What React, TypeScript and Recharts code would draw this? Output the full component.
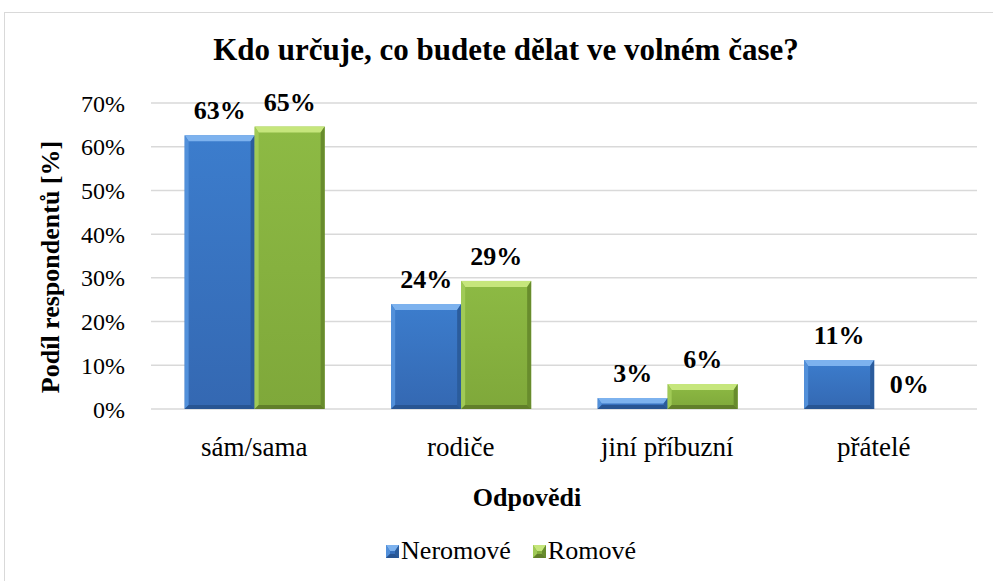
import { BarChart, Bar, XAxis, YAxis, CartesianGrid, LabelList } from "recharts";

const categories = ["sám/sama", "rodiče", "jiní příbuzní", "přátelé"];
const neromove = [62.6, 24, 2.5, 11.2];
const romove = [64.6, 29.3, 5.7, 0];
const yTicks = [0, 10, 20, 30, 40, 50, 60, 70];

const seriesNames = ["Neromové", "Romové"];

const blue = { face: "#3c7dcd", faceDark: "#3468b2", top: "#7db2ee", left: "#5290da", right: "#2b5c9c", bottom: "#285593" };
const green = { face: "#8dba44", faceDark: "#7fa83a", top: "#c6e67c", left: "#a0ca56", right: "#688c2d", bottom: "#617f2a" };

const FONT = "Liberation Serif";

const data = categories.map((name, i) => ({
  name,
  neromove: neromove[i],
  romove: romove[i],
}));

type Pal = typeof blue;

function BevelBar(props: any) {
  const { x, y, width, height, pal, id } = props as { x: number; y: number; width: number; height: number; pal: Pal; id: string };
  if (!height || height <= 0) return null;
  const t = Math.min(6, height / 2);
  const bt = Math.min(4, height / 2);
  const s = Math.min(4, width / 2);
  const x2 = x + width;
  const y2 = y + height;
  return (
    <g>
      <rect x={x} y={y} width={width} height={height} fill={`url(#${id})`} />
      <polygon points={`${x},${y} ${x2},${y} ${x2 - s},${y + t} ${x + s},${y + t}`} fill={pal.top} />
      <polygon points={`${x},${y} ${x + s},${y + t} ${x + s},${y2 - bt} ${x},${y2}`} fill={pal.left} />
      <polygon points={`${x2},${y} ${x2},${y2} ${x2 - s},${y2 - bt} ${x2 - s},${y + t}`} fill={pal.right} />
      <polygon points={`${x},${y2} ${x2},${y2} ${x2 - s},${y2 - bt} ${x + s},${y2 - bt}`} fill={pal.bottom} />
    </g>
  );
}

const pct = (v: any) => `${Math.round(Number(v))}%`;

function Grad({ id, pal }: { id: string; pal: Pal }) {
  return (
    <linearGradient id={id} x1="0" y1="0" x2="0" y2="1">
      <stop offset="0%" stopColor={pal.face} />
      <stop offset="100%" stopColor={pal.faceDark} />
    </linearGradient>
  );
}

function LegendIcon({ pal, id }: { pal: Pal; id: string }) {
  return (
    <svg width={13} height={13} style={{ marginRight: 2 }}>
      <defs>
        <Grad id={id} pal={pal} />
      </defs>
      <BevelBar x={0} y={0} width={13} height={13} pal={pal} id={id} />
    </svg>
  );
}

export default function App() {
  const labelStyle = { fontFamily: FONT, fontSize: 26, fontWeight: 700, fill: "#000" };
  return (
    <div style={{ position: "absolute", left: 0, top: 0, width: 993, height: 581, overflow: "hidden", background: "#fff", fontFamily: FONT }}>
      <div style={{ position: "absolute", left: 4, top: 12, width: 1100, height: 700, border: "1px solid #d9d9d9" }} />
      <div style={{ position: "absolute", left: 0, top: 34, width: 1012, textAlign: "center", fontFamily: FONT, fontSize: 31, lineHeight: "32px", fontWeight: 700, color: "#000" }}>
        Kdo určuje, co budete dělat ve volném čase?
      </div>
      <div style={{ position: "absolute", left: 0, top: 0 }}>
        <BarChart
          width={993}
          height={581}
          data={data}
          margin={{ top: 103, right: 16, left: 0, bottom: 112 }}
          barCategoryGap="16.3%"
          barGap={0}
        >
          <defs>
            <Grad id="gBlue" pal={blue} />
            <Grad id="gGreen" pal={green} />
          </defs>
          <CartesianGrid vertical={false} stroke="#d9d9d9" strokeWidth={1.5} />
          <XAxis
            dataKey="name"
            height={60}
            axisLine={false}
            tickLine={false}
            tickSize={0}
            tickMargin={28}
            tick={{ fontFamily: FONT, fontSize: 27, fill: "#000" }}
            label={{
              content: () => (
                <text x={527} y={497} textAnchor="middle" dominantBaseline="central" fontFamily={FONT} fontSize={26} fontWeight={700} fill="#000">
                  Odpovědi
                </text>
              ),
            }}
          />
          <YAxis
            width={151}
            domain={[0, 70]}
            ticks={yTicks}
            axisLine={false}
            tickLine={false}
            tickSize={0}
            tickMargin={26}
            tickFormatter={(v: number) => `${v}%`}
            tick={{ fontFamily: FONT, fontSize: 24, fill: "#000" }}
            label={{
              content: () => (
                <text
                  x={50}
                  y={267}
                  transform="rotate(-90 50 267)"
                  textAnchor="middle"
                  dominantBaseline="central"
                  fontFamily={FONT}
                  fontSize={26}
                  fontWeight={700}
                  fill="#000"
                >
                  Podíl respondentů [%]
                </text>
              ),
            }}
          />
          <Bar dataKey="neromove" name={seriesNames[0]} isAnimationActive={false} shape={(p: any) => <BevelBar {...p} pal={blue} id="gBlue" />}>
            <LabelList dataKey="neromove" position="top" offset={16} formatter={pct} style={labelStyle} fontFamily={FONT} />
          </Bar>
          <Bar dataKey="romove" name={seriesNames[1]} isAnimationActive={false} shape={(p: any) => <BevelBar {...p} pal={green} id="gGreen" />}>
            <LabelList dataKey="romove" position="top" offset={16} formatter={pct} style={labelStyle} fontFamily={FONT} />
          </Bar>
        </BarChart>
      </div>
      <div style={{ position: "absolute", left: 0, top: 536, width: 1022, display: "flex", justifyContent: "center", alignItems: "center", fontFamily: FONT, fontSize: 26, color: "#000" }}>
        {seriesNames.map((n, i) => (
          <span key={n} style={{ display: "flex", alignItems: "center", marginRight: i === 0 ? 22 : 0 }}>
            <LegendIcon pal={i === 0 ? blue : green} id={`leg${i}`} />
            {n}
          </span>
        ))}
      </div>
    </div>
  );
}
